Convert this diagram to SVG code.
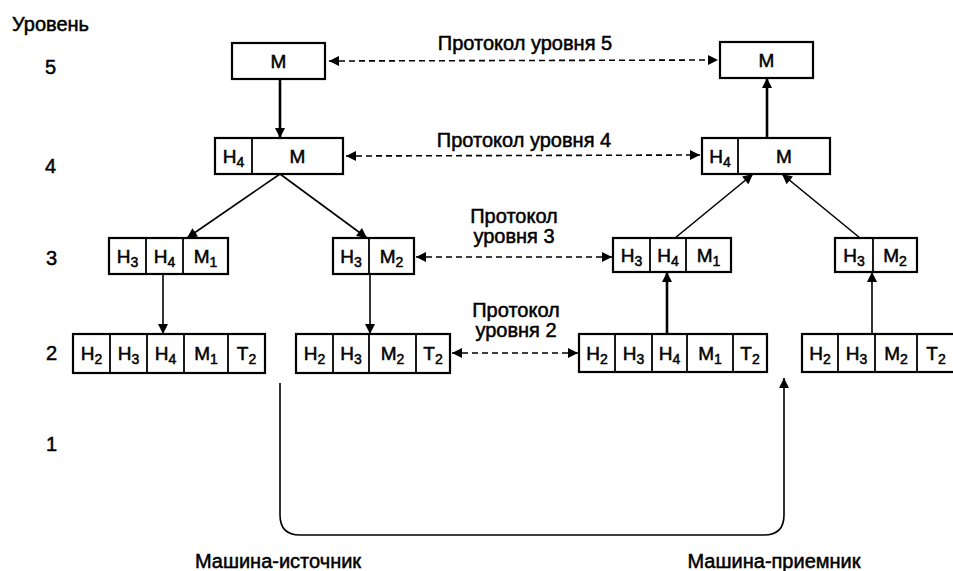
<svg xmlns="http://www.w3.org/2000/svg" width="953" height="571" viewBox="0 0 953 571">
<style>
text{font-family:"Liberation Sans",Arial,sans-serif;fill:#000;stroke:#000;stroke-width:0.5}
.lbl{font-size:20px}
.cell{font-size:19px;text-anchor:middle}
.sub{font-size:14px}
.box{fill:#fff;stroke:#000;stroke-width:2.2}
.div{stroke:#000;stroke-width:1.8}
.sol{stroke:#000;stroke-width:2.6;fill:none}
.thin{stroke:#000;stroke-width:1.6;fill:none}
.dash{stroke:#000;stroke-width:1.6;stroke-dasharray:6 4;fill:none}
</style>
<defs>
<marker id="ah" viewBox="0 0 10 10" refX="10" refY="5" markerWidth="12" markerHeight="10" markerUnits="userSpaceOnUse" orient="auto-start-reverse">
<path d="M0,0 L10,5 L0,10 z" fill="#000"/>
</marker>
</defs>

<g id="level-labels">
<text class="lbl" x="12" y="31">Уровень</text>
<text class="lbl" x="45" y="74">5</text>
<text class="lbl" x="45" y="173">4</text>
<text class="lbl" x="46" y="265">3</text>
<text class="lbl" x="46" y="360">2</text>
<text class="lbl" x="46" y="451">1</text>
</g>

<g id="connectors">
<line class="sol" x1="280" y1="79" x2="280" y2="138" marker-end="url(#ah)"/>
<line class="sol" x1="767" y1="138" x2="767" y2="78" marker-end="url(#ah)"/>
<line class="thin" x1="280" y1="174" x2="187" y2="238" marker-end="url(#ah)"/>
<line class="thin" x1="280" y1="174" x2="367" y2="238" marker-end="url(#ah)"/>
<line class="thin" x1="163" y1="274" x2="163" y2="334" marker-end="url(#ah)"/>
<line class="thin" x1="370" y1="274" x2="370" y2="334" marker-end="url(#ah)"/>
<line class="sol" x1="667" y1="334" x2="667" y2="272" marker-end="url(#ah)"/>
<line class="thin" x1="872" y1="334" x2="872" y2="272" marker-end="url(#ah)"/>
<line class="thin" x1="675" y1="238" x2="753" y2="174" marker-end="url(#ah)"/>
<line class="thin" x1="860" y1="238" x2="782" y2="174" marker-end="url(#ah)"/>
<path class="thin" d="M280,383 V515 Q280,535 300,535 H764 Q784,535 784,515 V378" marker-end="url(#ah)"/>
<line class="dash" x1="329" y1="61" x2="718" y2="60" marker-start="url(#ah)" marker-end="url(#ah)"/>
<line class="dash" x1="346" y1="156" x2="700" y2="155" marker-start="url(#ah)" marker-end="url(#ah)"/>
<line class="dash" x1="416" y1="257" x2="612" y2="257" marker-start="url(#ah)" marker-end="url(#ah)"/>
<line class="dash" x1="452" y1="353" x2="578" y2="353" marker-start="url(#ah)" marker-end="url(#ah)"/>
</g>

<g id="protocol-labels">
<text class="lbl" x="525" y="50" text-anchor="middle">Протокол уровня 5</text>
<text class="lbl" x="524" y="147" text-anchor="middle">Протокол уровня 4</text>
<text class="lbl" x="514" y="223" text-anchor="middle">Протокол</text>
<text class="lbl" x="514" y="243" text-anchor="middle">уровня 3</text>
<text class="lbl" x="516" y="317" text-anchor="middle">Протокол</text>
<text class="lbl" x="516" y="337" text-anchor="middle">уровня 2</text>
<text class="lbl" x="278" y="568" text-anchor="middle">Машина-источник</text>
<text class="lbl" x="774" y="568" text-anchor="middle">Машина-приемник</text>
</g>

<g id="src-l5">
<rect class="box" x="232" y="43" width="93" height="36"/>
<text class="cell" x="278.5" y="68">M</text>
</g>
<g id="dst-l5">
<rect class="box" x="720" y="42" width="93" height="36"/>
<text class="cell" x="766.5" y="67">M</text>
</g>

<g id="src-l4">
<rect class="box" x="215" y="138" width="128" height="36"/>
<line class="div" x1="252" y1="138" x2="252" y2="174"/>
<text class="cell" x="233.5" y="163">H<tspan class="sub" dy="4">4</tspan></text>
<text class="cell" x="297.5" y="163">M</text>
</g>
<g id="dst-l4">
<rect class="box" x="702" y="138" width="128" height="36"/>
<line class="div" x1="738" y1="138" x2="738" y2="174"/>
<text class="cell" x="720" y="163">H<tspan class="sub" dy="4">4</tspan></text>
<text class="cell" x="784" y="163">M</text>
</g>

<g id="src-l3a">
<rect class="box" x="109" y="238" width="119" height="36"/>
<line class="div" x1="146" y1="238" x2="146" y2="274"/>
<line class="div" x1="183" y1="238" x2="183" y2="274"/>
<text class="cell" x="127.5" y="263">H<tspan class="sub" dy="4">3</tspan></text>
<text class="cell" x="164.5" y="263">H<tspan class="sub" dy="4">4</tspan></text>
<text class="cell" x="205.5" y="263">M<tspan class="sub" dy="4">1</tspan></text>
</g>
<g id="src-l3b">
<rect class="box" x="333" y="238" width="81" height="36"/>
<line class="div" x1="369" y1="238" x2="369" y2="274"/>
<text class="cell" x="351" y="263">H<tspan class="sub" dy="4">3</tspan></text>
<text class="cell" x="391.5" y="263">M<tspan class="sub" dy="4">2</tspan></text>
</g>
<g id="dst-l3a">
<rect class="box" x="613" y="238" width="118" height="34"/>
<line class="div" x1="650" y1="238" x2="650" y2="272"/>
<line class="div" x1="686" y1="238" x2="686" y2="272"/>
<text class="cell" x="631.5" y="262">H<tspan class="sub" dy="4">3</tspan></text>
<text class="cell" x="668" y="262">H<tspan class="sub" dy="4">4</tspan></text>
<text class="cell" x="708.5" y="262">M<tspan class="sub" dy="4">1</tspan></text>
</g>
<g id="dst-l3b">
<rect class="box" x="835" y="238" width="82" height="34"/>
<line class="div" x1="873" y1="238" x2="873" y2="272"/>
<text class="cell" x="854" y="262">H<tspan class="sub" dy="4">3</tspan></text>
<text class="cell" x="895" y="262">M<tspan class="sub" dy="4">2</tspan></text>
</g>

<g id="src-l2a">
<rect class="box" x="73" y="334" width="192" height="39"/>
<line class="div" x1="110" y1="334" x2="110" y2="373"/>
<line class="div" x1="147" y1="334" x2="147" y2="373"/>
<line class="div" x1="184" y1="334" x2="184" y2="373"/>
<line class="div" x1="228" y1="334" x2="228" y2="373"/>
<text class="cell" x="91.5" y="360">H<tspan class="sub" dy="4">2</tspan></text>
<text class="cell" x="128.5" y="360">H<tspan class="sub" dy="4">3</tspan></text>
<text class="cell" x="165.5" y="360">H<tspan class="sub" dy="4">4</tspan></text>
<text class="cell" x="206" y="360">M<tspan class="sub" dy="4">1</tspan></text>
<text class="cell" x="246.5" y="360">T<tspan class="sub" dy="4">2</tspan></text>
</g>
<g id="src-l2b">
<rect class="box" x="296" y="334" width="154" height="39"/>
<line class="div" x1="333" y1="334" x2="333" y2="373"/>
<line class="div" x1="369" y1="334" x2="369" y2="373"/>
<line class="div" x1="416" y1="334" x2="416" y2="373"/>
<text class="cell" x="314.5" y="360">H<tspan class="sub" dy="4">2</tspan></text>
<text class="cell" x="351" y="360">H<tspan class="sub" dy="4">3</tspan></text>
<text class="cell" x="392.5" y="360">M<tspan class="sub" dy="4">2</tspan></text>
<text class="cell" x="433" y="360">T<tspan class="sub" dy="4">2</tspan></text>
</g>
<g id="dst-l2a">
<rect class="box" x="579" y="334" width="188" height="38"/>
<line class="div" x1="615" y1="334" x2="615" y2="372"/>
<line class="div" x1="652" y1="334" x2="652" y2="372"/>
<line class="div" x1="687" y1="334" x2="687" y2="372"/>
<line class="div" x1="733" y1="334" x2="733" y2="372"/>
<text class="cell" x="597" y="360">H<tspan class="sub" dy="4">2</tspan></text>
<text class="cell" x="633.5" y="360">H<tspan class="sub" dy="4">3</tspan></text>
<text class="cell" x="669.5" y="360">H<tspan class="sub" dy="4">4</tspan></text>
<text class="cell" x="710" y="360">M<tspan class="sub" dy="4">1</tspan></text>
<text class="cell" x="750" y="360">T<tspan class="sub" dy="4">2</tspan></text>
</g>
<g id="dst-l2b">
<rect class="box" x="802" y="334" width="156" height="38"/>
<line class="div" x1="838" y1="334" x2="838" y2="372"/>
<line class="div" x1="875" y1="334" x2="875" y2="372"/>
<line class="div" x1="917" y1="334" x2="917" y2="372"/>
<text class="cell" x="820" y="360">H<tspan class="sub" dy="4">2</tspan></text>
<text class="cell" x="856.5" y="360">H<tspan class="sub" dy="4">3</tspan></text>
<text class="cell" x="896" y="360">M<tspan class="sub" dy="4">2</tspan></text>
<text class="cell" x="936" y="360">T<tspan class="sub" dy="4">2</tspan></text>
</g>
</svg>
